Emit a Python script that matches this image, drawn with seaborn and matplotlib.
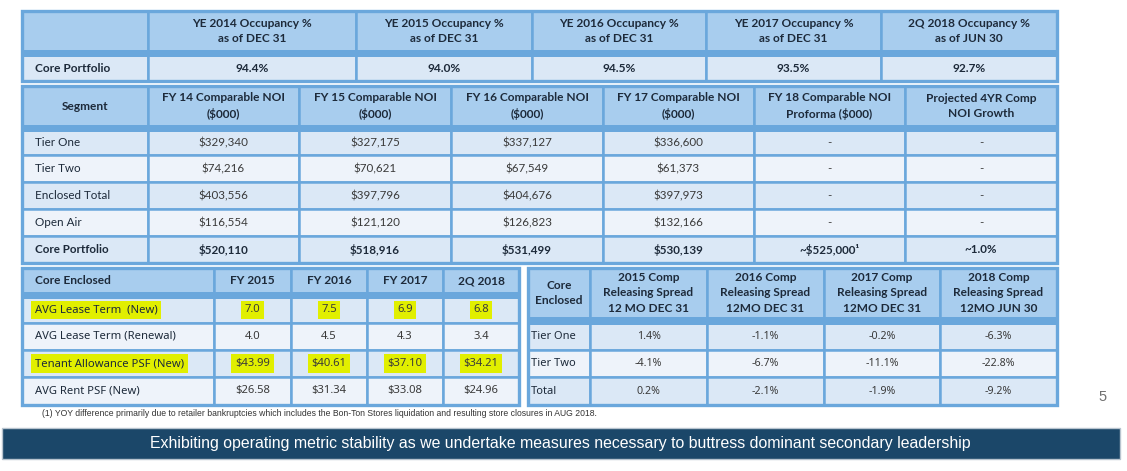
import matplotlib
matplotlib.use("Agg")
import matplotlib.pyplot as plt
import seaborn as sns
from matplotlib.patches import Rectangle

sns.set_theme(style="white")
plt.rcParams['font.family'] = ['Lato', 'DejaVu Sans']
plt.rcParams['text.parse_math'] = False

# occupancy table
occ_headers = ["YE 2014 Occupancy %\nas of DEC 31", "YE 2015 Occupancy %\nas of DEC 31",
               "YE 2016 Occupancy %\nas of DEC 31", "YE 2017 Occupancy %\nas of DEC 31",
               "2Q 2018 Occupancy %\nas of JUN 30"]
occ_label = "Core Portfolio"
occ_values = ["94.4%", "94.0%", "94.5%", "93.5%", "92.7%"]

# comparable NOI table
noi_headers = ["Segment", "FY 14 Comparable NOI\n($000)", "FY 15 Comparable NOI\n($000)",
               "FY 16 Comparable NOI\n($000)", "FY 17 Comparable NOI\n($000)",
               "FY 18 Comparable NOI\nProforma ($000)", "Projected 4YR Comp\nNOI Growth"]
noi_segments = ["Tier One", "Tier Two", "Enclosed Total", "Open Air", "Core Portfolio"]
noi_fy14 = ["$329,340", "$74,216", "$403,556", "$116,554", "$520,110"]
noi_fy15 = ["$327,175", "$70,621", "$397,796", "$121,120", "$518,916"]
noi_fy16 = ["$337,127", "$67,549", "$404,676", "$126,823", "$531,499"]
noi_fy17 = ["$336,600", "$61,373", "$397,973", "$132,166", "$530,139"]
noi_fy18 = ["-", "-", "-", "-", "~$525,000\u00b9"]
noi_growth = ["-", "-", "-", "-", "~1.0%"]

# core enclosed lease table
lease_headers = ["Core Enclosed", "FY 2015", "FY 2016", "FY 2017", "2Q 2018"]
lease_metrics = ["AVG Lease Term  (New)", "AVG Lease Term (Renewal)",
                 "Tenant Allowance PSF (New)", "AVG Rent PSF (New)"]
lease_fy2015 = ["7.0", "4.0", "$43.99", "$26.58"]
lease_fy2016 = ["7.5", "4.5", "$40.61", "$31.34"]
lease_fy2017 = ["6.9", "4.3", "$37.10", "$33.08"]
lease_2q2018 = ["6.8", "3.4", "$34.21", "$24.96"]
lease_highlight = [True, False, True, False]

# releasing spread table
spread_headers = ["Core\nEnclosed", "2015 Comp\nReleasing Spread\n12 MO DEC 31",
                  "2016 Comp\nReleasing Spread\n12MO DEC 31", "2017 Comp\nReleasing Spread\n12MO DEC 31",
                  "2018 Comp\nReleasing Spread\n12MO JUN 30"]
spread_rows = ["Tier One", "Tier Two", "Total"]
spread_2015 = ["1.4%", "-4.1%", "0.2%"]
spread_2016 = ["-1.1%", "-6.7%", "-2.1%"]
spread_2017 = ["-0.2%", "-11.1%", "-1.9%"]
spread_2018 = ["-6.3%", "-22.8%", "-9.2%"]

footnote = ("(1) YOY difference primarily due to retailer bankruptcies which includes the "
            "Bon-Ton Stores liquidation and resulting store closures in AUG 2018.")
banner = ("Exhibiting operating metric stability as we undertake measures necessary "
          "to buttress dominant secondary leadership")
page_no = "5"

HEAD = "#a8cdee"
BORDER = "#6aa7dc"
ROW_A = "#dbe8f6"
ROW_B = "#eef3fa"
TXT = "#1d2a3a"
VAL = "#3a3a3a"
NAVY = "#1b4769"
HILITE = "#e1ef00"

fig = plt.figure(figsize=(11.27, 4.71), dpi=100)
ax = fig.add_axes([0, 0, 1, 1])
ax.set_xlim(0, 1127)
ax.set_ylim(471, 0)
ax.axis("off")


def draw_table(xs, head_y, body_y, headers, columns, first_font, val_font,
               label_pad=13, bold_last=False, highlight=None, head_left=False):
    # header cells
    for j in range(len(xs) - 1):
        ax.add_patch(Rectangle((xs[j], head_y[0]), xs[j + 1] - xs[j], head_y[1] - head_y[0],
                               fc=HEAD, ec=BORDER, lw=1.8, zorder=1))
        cx = (xs[j] + xs[j + 1]) / 2
        cy = (head_y[0] + head_y[1]) / 2
        if j == 0 and head_left:
            ax.text(xs[0] + label_pad, cy, headers[0], ha="left", va="center",
                    fontsize=8.6, fontweight="bold", color=TXT, zorder=3)
        else:
            ax.text(cx, cy, headers[j], ha="center", va="center", fontsize=8.6,
                    fontweight="bold", color=TXT, linespacing=1.5, zorder=3)
    # body cells
    n_rows = len(body_y) - 1
    for i in range(n_rows):
        fill = ROW_A if i % 2 == 0 else ROW_B
        bold = bold_last and i == n_rows - 1
        hl = highlight is not None and highlight[i]
        for j in range(len(xs) - 1):
            ax.add_patch(Rectangle((xs[j], body_y[i]), xs[j + 1] - xs[j], body_y[i + 1] - body_y[i],
                                   fc=fill, ec=BORDER, lw=1.8, zorder=1))
            cy = (body_y[i] + body_y[i + 1]) / 2
            box = dict(boxstyle="square,pad=0.32", fc=HILITE, ec="none") if hl else None
            if j == 0:
                ax.text(xs[0] + label_pad, cy, columns[0][i], ha="left", va="center",
                        fontsize=first_font[1], family=first_font[0],
                        fontweight="bold" if bold else "normal",
                        color=TXT, bbox=box, zorder=3)
            else:
                ax.text((xs[j] + xs[j + 1]) / 2, cy, columns[j][i], ha="center", va="center",
                        fontsize=val_font[1], family=val_font[0],
                        fontweight="bold" if bold else "normal",
                        color=TXT if bold else VAL, bbox=box, zorder=3)
    # thick rule under header + outer frame
    ax.add_patch(Rectangle((xs[0], head_y[1] - 1.5), xs[-1] - xs[0], body_y[0] - head_y[1] + 3,
                           fc=BORDER, ec="none", zorder=2))
    ax.add_patch(Rectangle((xs[0], head_y[0]), xs[-1] - xs[0], body_y[-1] - head_y[0],
                           fc="none", ec=BORDER, lw=2.4, zorder=2))


calibri = ["Lato", "DejaVu Sans"]
tahoma = ["Noto Sans", "DejaVu Sans"]

# occupancy
draw_table([22, 148, 356, 532, 706, 881, 1057], (11, 51), [55, 81],
           [""] + occ_headers, [[occ_label]] + [[v] for v in occ_values],
           (calibri, 8.6), (calibri, 8.6), bold_last=True)

# comparable NOI
draw_table([22, 148, 299, 451, 603, 754, 905, 1057], (86, 126), [130, 155, 182, 209, 236, 263],
           noi_headers, [noi_segments, noi_fy14, noi_fy15, noi_fy16, noi_fy17, noi_fy18, noi_growth],
           (calibri, 8.4), (calibri, 8.4), bold_last=True)

# lease metrics
draw_table([22, 214, 291, 367, 443, 519], (268, 293), [297, 323, 350, 377, 405],
           lease_headers, [lease_metrics, lease_fy2015, lease_fy2016, lease_fy2017, lease_2q2018],
           (tahoma, 8.1), (tahoma, 8.1), highlight=lease_highlight, head_left=True)

# releasing spread
draw_table([528, 590, 707, 824, 940, 1057], (268, 318), [323, 350, 377, 405],
           spread_headers, [spread_rows, spread_2015, spread_2016, spread_2017, spread_2018],
           (tahoma, 8.0), (tahoma, 7.7), label_pad=3)

ax.text(42, 414, footnote, ha="left", va="center", fontsize=6.25, color="#333333",
        family=["Liberation Sans Narrow", "Liberation Sans"])
ax.text(1103, 397, page_no, ha="center", va="center", fontsize=10.5, color="#707070",
        family=["Liberation Sans", "DejaVu Sans"])

ax.add_patch(Rectangle((2, 428), 1118, 31, fc=NAVY, ec="#b8c4cf", lw=1.0, zorder=1))
ax.text(560, 443.5, banner, ha="center", va="center", fontsize=11.4, color="white",
        family=["Liberation Sans Narrow", "Liberation Sans"], zorder=3)

fig.savefig("out.png", dpi=100, facecolor="white")
